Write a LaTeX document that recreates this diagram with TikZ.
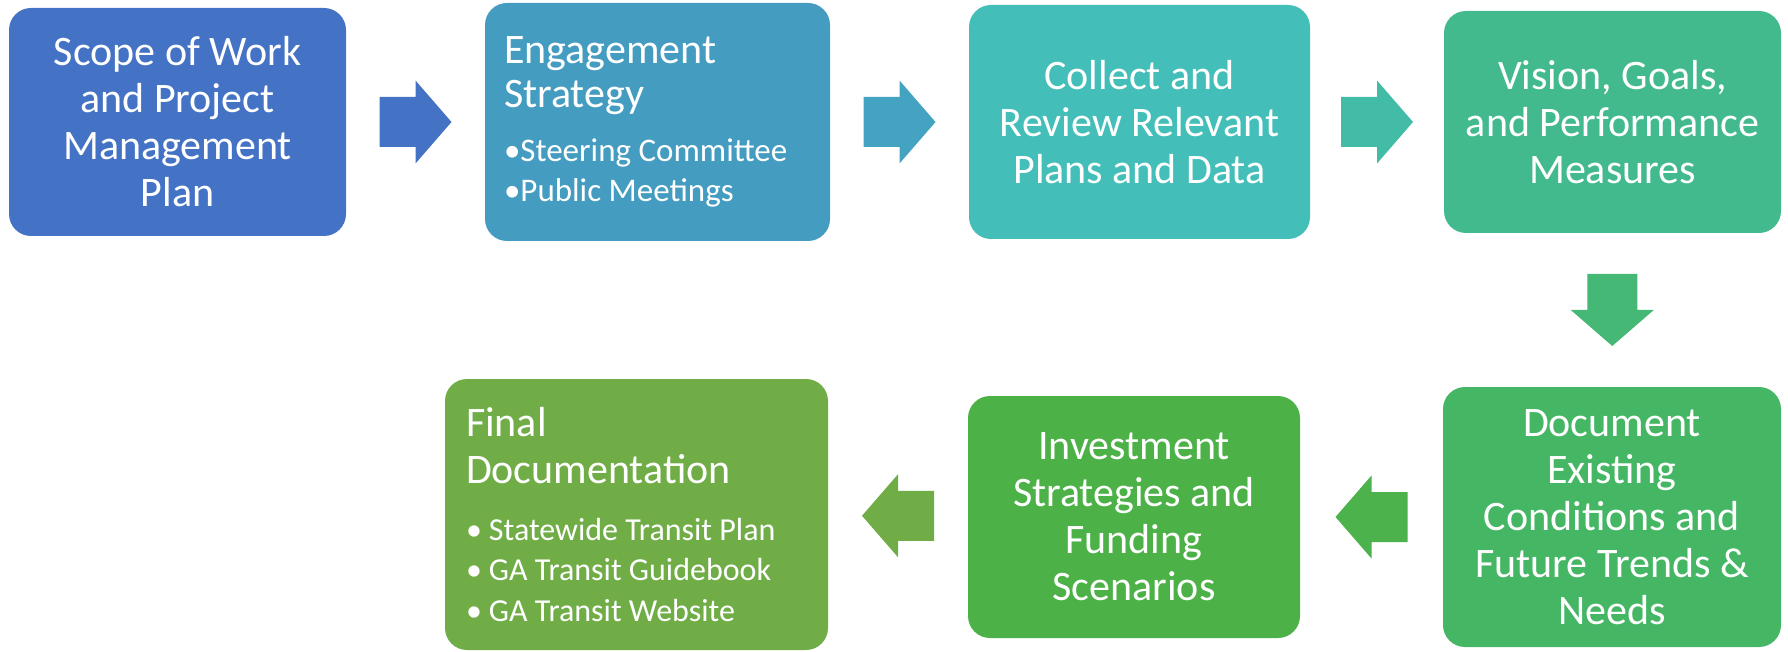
\documentclass[tikz,border=0pt]{standalone}
\usepackage{fontspec}
\setmainfont{Carlito}
\definecolor{scopeblue}{HTML}{4472C4}
\definecolor{engageblue}{HTML}{449CC1}
\definecolor{collectteal}{HTML}{43BEB9}
\definecolor{visionteal}{HTML}{43BA8D}
\definecolor{existgreen}{HTML}{45B664}
\definecolor{investgreen}{HTML}{4CB146}
\definecolor{finalgreen}{HTML}{70AD47}
\usetikzlibrary{calc}
\tikzset{
  stage_box/.style={rounded corners=11pt,inner sep=0pt,text=white,align=center,
    font=\fontsize{21}{23.5}\selectfont},
  stage_list/.style={rounded corners=11pt,inner xsep=#1,inner ysep=0pt,text=white,align=left,
    execute at begin node={\spaceskip=0pt\xspaceskip=0pt}},
  blockarr/.pic={\fill[#1] (-36,-25) -- (0,-25) -- (0,-41.5) -- (36,0) -- (0,41.5) -- (0,25) -- (-36,25) -- cycle;},
}

\begin{document}
\begin{tikzpicture}[x=0.5pt,y=-0.5pt]
    \useasboundingbox (0,0) rectangle (1788,652);
    % top row
    \node[stage_box,fill=scopeblue,minimum width=168.5pt,minimum height=114pt] (scope) at (177.5,122) {Scope of Work\\and Project\\Management\\Plan};
    \node[stage_list=9.5pt,fill=engageblue,text width=153.5pt,minimum height=119pt,font=\fontsize{16.5}{20}\selectfont] (engage) at (657.5,122)
      {{\fontsize{21}{20}\selectfont Engagement}\\[2pt]{\fontsize{21}{20}\selectfont Strategy}\\[7pt]•Steering Committee\\•Public Meetings};
    \node[stage_box,fill=collectteal,minimum width=170.5pt,minimum height=117pt] (collect) at (1139.5,122) {Collect and\\Review Relevant\\Plans and Data};
    \node[stage_box,fill=visionteal,minimum width=168.5pt,minimum height=111pt] (vision) at (1612.5,122) {Vision, Goals,\\and Performance\\Measures};
    % bottom row
    \node[stage_box,fill=existgreen,minimum width=169pt,minimum height=130pt] (exist) at (1612,517) {Document\\Existing\\Conditions and\\Future Trends \&\\Needs};
    \node[stage_box,fill=investgreen,minimum width=166pt,minimum height=121pt] (invest) at (1134,517) {Investment\\Strategies and\\Funding\\Scenarios};
    \node[stage_list=10.5pt,fill=finalgreen,text width=170.5pt,minimum height=135.5pt,font=\fontsize{16}{20.25}\selectfont] (final) at (636.5,514.5)
      {{\fontsize{21}{20}\selectfont Final}\\[3.25pt]{\fontsize{21}{20}\selectfont Documentation}\\[8.25pt]\makebox[11.5pt][l]{•}Statewide Transit Plan\\\makebox[11.5pt][l]{•}GA Transit Guidebook\\\makebox[11.5pt][l]{•}GA Transit Website};

    \pic at ($(scope.east)!0.5!(engage.west)$) {blockarr=scopeblue};
    \pic at ($(engage.east)!0.5!(collect.west)$) {blockarr=engageblue!80!collectteal};
    \pic at ($(collect.east)!0.5!(vision.west)$) {blockarr=collectteal!60!visionteal};
    \pic[rotate=-90] at ($(vision.south)!0.5!(exist.north)$) {blockarr=visionteal!40!existgreen};
    \pic[rotate=180] at ($(exist.west)!0.5!(invest.east)$) {blockarr=investgreen!80!existgreen};
    \pic[rotate=180] at ($(invest.west)!0.5!(final.east)$) {blockarr=finalgreen};
\end{tikzpicture}
\end{document}
